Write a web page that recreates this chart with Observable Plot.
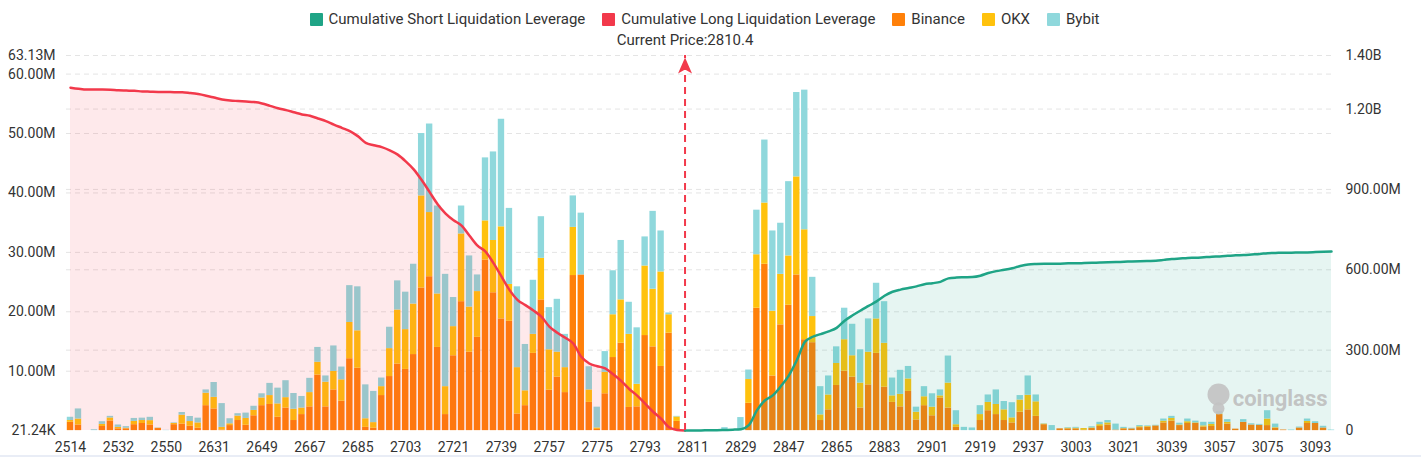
<!DOCTYPE html>
<html><head><meta charset="utf-8">
<script src="https://cdn.jsdelivr.net/npm/d3@7"></script>
<script src="https://cdn.jsdelivr.net/npm/@observablehq/plot@0.6"></script>
<style>
html,body{margin:0;padding:0;background:#fff;}
body{width:1421px;height:457px;overflow:hidden;font-family:Roboto,sans-serif;}
#legend{height:30px;display:flex;justify-content:center;align-items:center;gap:17px;font-size:15px;color:#333;padding-right:12px;padding-top:8px;box-sizing:border-box;}
.item{display:flex;align-items:center;gap:6px;white-space:nowrap;}
.sw{width:13px;height:13px;border-radius:1px;}
#chart{height:425px;}
#foot{height:2px;background:#e9edf6;}
</style></head>
<body>
<div id="legend"></div>
<div id="chart"></div>
<div id="foot"></div>
<script>
// ---- data (values in millions USD for bars, billions for cumulative lines) ----
const tickLabels = ["2514","2532","2550","2631","2649","2667","2685","2703","2721","2739","2757","2775","2793","2811","2829","2847","2865","2883","2901","2919","2937","3003","3021","3039","3057","3075","3093"];
const binance = [
1.4,0.95,0,0,0.7,1.63,0.3,0.3,1.0,1.2,
0.95,0.35,0,1.0,1.1,0.73,0.4,4.2,3.65,0.1,
0.85,1.7,0.9,2.5,4.2,4.4,2.25,3.8,1.7,2.7,
4.0,9.35,4.0,6.85,4.95,12.1,10.5,0.55,0.4,5.9,
9.1,11.2,10.3,12.8,24.0,25.9,14.0,2.7,12.6,21.7,
13.2,15.7,28.7,23.2,18.8,18.4,2.8,4.2,13.0,22.0,
6.8,9.0,6.4,26.1,26.2,4.75,0.2,6.2,12.3,14.7,
3.9,4.0,16.0,14.1,10.8,16.4,1.55,0,0,0,
0,0,0,0,0,4.6,20.6,28.0,9.2,17.8,
21.1,26.2,15.3,14.8,1.7,3.5,7.6,10.0,9.0,3.8,
7.7,13.0,7.3,4.75,4.0,6.6,1.8,4.2,2.5,5.5,
3.8,0.55,0,0,1.7,3.35,2.7,1.7,1.3,3.1,
3.5,2.4,1.0,0,0.3,0.3,0.3,0.05,0.35,0.7,
0.95,0.1,0.3,0.3,0.5,0.6,0.8,1.3,1.6,0.85,
1.2,1.2,0.6,0.7,2.7,1.1,0.25,1.4,0.95,0.9,
0.85,0.4,0.1,0,0.45,1.2,1.2,0.45,0];
const okx = [
0.3,1.0,0,0,0.35,0.5,0.25,0.1,0.55,0.5,
0.73,0.05,0,0.2,1.5,0.8,0.9,2.1,1.95,0.45,
0.3,0.75,1.15,0.9,1.3,1.5,2.25,1.75,1.9,1.1,
2.4,2.15,4.15,3.1,3.6,6.1,6.3,1.45,0.95,1.5,
4.7,9.1,6.7,8.5,15.5,10.8,9.0,4.7,4.9,11.4,
7.6,7.7,6.6,8.8,15.5,6.2,7.8,2.5,3.2,7.0,
6.8,4.2,4.2,8.1,0,2.1,0.25,3.6,7.2,7.3,
12.3,3.8,11.7,9.7,15.9,3.1,0.75,0,0,0,
0,0,0,0,0,4.0,9.0,10.3,10.9,8.5,
8.3,16.5,18.5,4.4,0.95,2.5,3.7,5.3,3.6,4.2,
5.5,5.8,7.4,1.1,2.1,2.1,1.3,1.5,1.45,0.35,
4.2,0.45,0,0,1.0,1.4,1.7,1.8,0.85,2.05,
2.45,2.45,0.1,0,0,0.1,0.1,0.3,0.1,0.3,
0.35,0,0.05,0,0.15,0.1,0,0.3,0.45,0.1,
0.3,0.1,0.2,0.35,0.1,0.3,0,0,0,0,
1.1,0.1,0,0,0,0.35,0,0,0];
const bybit = [
0.55,1.7,0,0.15,0.45,0.27,0.4,0.27,0.5,0.4,
0.56,0.05,0.05,0.1,0.45,0.85,0.8,0.55,2.5,4.0,
0.85,0.4,0.9,0.7,0.7,2.05,2.65,2.85,2.65,1.95,
2.4,2.5,1.05,4.3,2.15,6.2,7.4,5.7,5.25,1.45,
3.6,4.9,6.3,6.7,10.5,14.9,14.8,18.9,4.9,4.7,
8.6,2.8,10.6,14.9,18.1,12.8,13.6,7.8,9.1,7.0,
7.1,8.9,5.6,5.3,10.4,3.9,3.5,3.5,7.4,10.0,
5.4,9.5,4.9,13.1,6.9,0.3,0.1,0,0,0,
0,0,0.5,0,2.2,1.6,7.5,10.6,13.5,8.6,
12.5,14.2,23.5,6.6,4.75,3.2,2.8,5.3,5.3,5.6,
5.6,6.0,7.0,3.0,4.05,2.1,0.85,1.7,2.25,1.0,
4.55,2.35,0.55,0.45,1.5,1.25,2.45,1.4,2.55,0.75,
3.25,1.15,0.05,0.85,0,0.1,0.15,0,0.2,0.4,
0.4,1.0,0.2,0.1,0.2,0.1,0.1,0.35,0.35,0.3,
0.45,0.3,0.6,0.35,0.4,0.45,0,0.45,0.2,0.15,
1.4,0.6,0,0.1,0.15,0.4,0.3,0.28,0.1];
// cumulative long liquidation leverage (B), categories 0..77
const longCum = [
1.280,1.276,1.273,1.273,1.273,1.272,1.270,1.269,1.268,1.266,
1.265,1.264,1.264,1.263,1.263,1.260,1.256,1.250,1.243,1.236,
1.232,1.230,1.228,1.226,1.221,1.212,1.203,1.196,1.188,1.180,
1.175,1.165,1.155,1.142,1.130,1.118,1.099,1.074,1.065,1.058,
1.046,1.030,1.005,0.975,0.935,0.890,0.845,0.810,0.785,0.765,
0.727,0.690,0.668,0.625,0.575,0.525,0.488,0.468,0.448,0.425,
0.388,0.365,0.346,0.325,0.275,0.250,0.240,0.232,0.210,0.185,
0.155,0.130,0.100,0.070,0.044,0.012,0.002,0];
const longStart = 0;
// cumulative short liquidation leverage (B), categories 77..158
const shortCum = [
0,0,0,0.001,0.001,0.002,0.003,0.005,0.020,0.075,
0.112,0.131,0.165,0.205,0.262,0.330,0.350,0.360,0.370,0.383,
0.410,0.430,0.448,0.465,0.482,0.503,0.518,0.526,0.532,0.538,
0.546,0.550,0.555,0.568,0.571,0.572,0.573,0.578,0.588,0.595,
0.600,0.606,0.614,0.620,0.622,0.623,0.623,0.623,0.624,0.624,
0.625,0.626,0.627,0.628,0.629,0.630,0.631,0.632,0.633,0.634,
0.637,0.640,0.642,0.644,0.645,0.647,0.649,0.650,0.652,0.654,
0.655,0.657,0.659,0.662,0.663,0.664,0.664,0.665,0.665,0.666,
0.667,0.668];
const shortStart = 77;
const currentPrice = 2810.4;
const currentPriceIndex = 77;
const leftTicks = [0.02124, 10, 20, 30, 40, 50, 60, 63.13];
const rightTicks = [0, 300, 600, 900, 1200, 1400];        // millions
const rightLabels = ["0","300.00M","600.00M","900.00M","1.20B","1.40B"];
const exchanges = ["Binance","OKX","Bybit"];
const colors = {Binance:"#ff8009", OKX:"#ffc20d", Bybit:"#8fd8dc", Short:"#1fa486", Long:"#f2394b"};

// ---- legend ----
const legendItems = [
  ["Cumulative Short Liquidation Leverage", colors.Short],
  ["Cumulative Long Liquidation Leverage", colors.Long],
  ["Binance", colors.Binance], ["OKX", colors.OKX], ["Bybit", colors.Bybit]];
const leg = document.getElementById("legend");
for (const [name, c] of legendItems) {
  const it = document.createElement("div"); it.className = "item";
  const sw = document.createElement("div"); sw.className = "sw"; sw.style.background = c;
  const tx = document.createElement("span"); tx.textContent = name;
  it.append(sw, tx); leg.append(it);
}

// ---- build tables ----
const yMin = leftTicks[0], yMax = leftTicks[leftTicks.length - 1];
const rightMax = rightTicks[rightTicks.length - 1];
const toLeft = v => yMin + v / rightMax * (yMax - yMin);   // right-axis millions -> left-axis units
const rows = [];
const series = {Binance: binance, OKX: okx, Bybit: bybit};
binance.forEach((_, i) => exchanges.forEach(ex => rows.push({i, exchange: ex, v: series[ex][i]})));
const longRows = longCum.map((v, k) => ({i: longStart + k, v: v * 1000}));
const shortRows = shortCum.map((v, k) => ({i: shortStart + k, v: v * 1000}));
const nCat = binance.length;
const rightTickPos = rightTicks.map(toLeft);

const chart = Plot.plot({
  width: 1421, height: 425,
  marginLeft: 66, marginRight: 86, marginTop: 25, marginBottom: 25,
  x: {type: "linear", domain: [-0.5, nCat - 0.5], axis: null},
  y: {domain: [yMin, yMax], axis: null},
  color: {domain: exchanges, range: exchanges.map(e => colors[e])},
  style: {fontFamily: "Roboto, sans-serif", fontSize: "14px", background: "#fff", overflow: "visible"},
  marks: [
    Plot.ruleY(leftTicks.slice(1), {stroke: "#e4e4e4", strokeDasharray: "5,4"}),
    Plot.ruleY(rightTickPos.slice(1), {stroke: "#e4e4e4", strokeDasharray: "5,4"}),
    Plot.rectY(rows, {x1: d => d.i - 0.5, x2: d => d.i + 0.5, y: "v", fill: "exchange", insetLeft: 0.8, insetRight: 0.8}),
    Plot.area(longRows, {x1: "i", y1: yMin, y2: d => toLeft(d.v), fill: colors.Long, fillOpacity: 0.11, curve: "monotone-x"}),
    Plot.area(shortRows, {x1: "i", y1: yMin, y2: d => toLeft(d.v), fill: colors.Short, fillOpacity: 0.11, curve: "monotone-x"}),
    Plot.line(longRows, {x: "i", y: d => toLeft(d.v), stroke: colors.Long, strokeWidth: 2.5, curve: "monotone-x"}),
    Plot.line(shortRows, {x: "i", y: d => toLeft(d.v), stroke: colors.Short, strokeWidth: 2.5, curve: "monotone-x"}),
    Plot.ruleX([currentPriceIndex], {y1: yMin, y2: yMax, stroke: "#f2394b", strokeWidth: 2, strokeDasharray: "7,5"}),
    Plot.dot([currentPriceIndex], {x: d => d, y: yMax, fill: "#f2394b", stroke: "none",
      symbol: {draw(ctx) { ctx.moveTo(0, 2); ctx.lineTo(7, 18); ctx.lineTo(0, 14); ctx.lineTo(-7, 18); ctx.closePath(); }}}),
    Plot.text([currentPrice], {x: () => currentPriceIndex, frameAnchor: "top", dy: -15, text: d => `Current Price:${d}`,
      fontSize: 15, fill: "#333", textAnchor: "middle", lineAnchor: "middle"}),
    Plot.axisX({ticks: d3.range(0, nCat, 6), tickFormat: i => tickLabels[i / 6], tickSize: 0, tickPadding: 12,
      fontSize: 14, fill: "#333", label: null}),
    Plot.axisY({anchor: "left", ticks: leftTicks,
      tickFormat: d => d < 1 ? (d * 1000).toFixed(2) + "K" : d.toFixed(2) + "M",
      tickSize: 0, tickPadding: 11, fontSize: 14, fill: "#333", label: null}),
    Plot.axisY({anchor: "right", ticks: rightTickPos,
      tickFormat: d => rightLabels[d3.minIndex(rightTickPos, t => Math.abs(t - d))],
      tickSize: 0, tickPadding: 10, fontSize: 14, fill: "#333", label: null}),
    Plot.dot(["logo"], {frameAnchor: "bottom-right", dx: -117, dy: -36, r: 11, fill: "#c2c2c2", fillOpacity: 0.9}),
    Plot.dot(["logo"], {frameAnchor: "bottom-right", dx: -117, dy: -22, r: 6, fill: "#c2c2c2", fillOpacity: 0.9}),
    Plot.text(["coinglass"], {frameAnchor: "bottom-right", dx: -8, dy: -32, fontSize: 22, fontWeight: 700,
      fill: "#bdbdbd", fillOpacity: 0.9, textAnchor: "end", lineAnchor: "middle"})
  ]
});
document.getElementById("chart").append(chart);
</script>
</body></html>
